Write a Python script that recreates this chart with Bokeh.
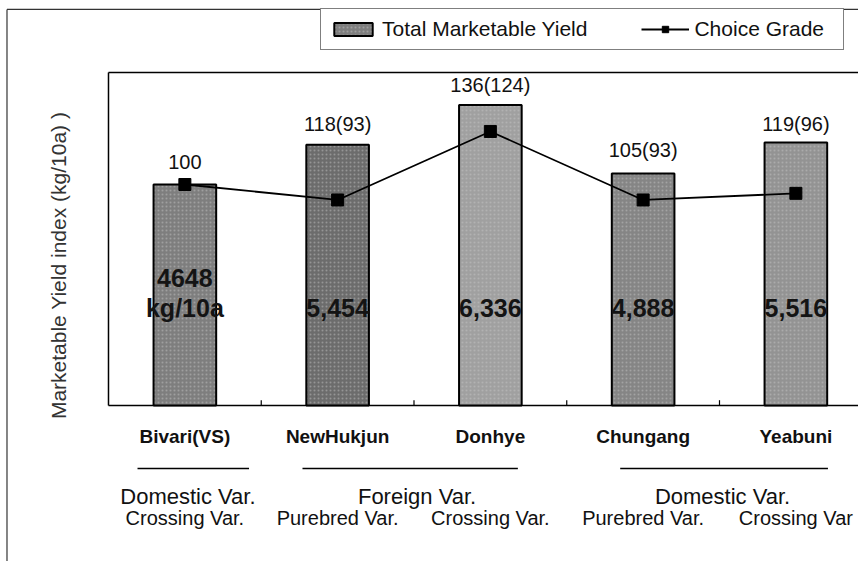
import math
from bokeh.plotting import figure
from bokeh.models import ColumnDataSource, Range1d, Legend, LegendItem
from bokeh.core.properties import value
from bokeh.embed import file_html
from bokeh.resources import INLINE

# ---------------- data ----------------
varieties = ["Bivari(VS)", "NewHukjun", "Donhye", "Chungang", "Yeabuni"]
yield_index = [100, 118, 136, 105, 119]          # Total marketable yield index
choice_index = [100, 93, 124, 93, 96]            # Choice grade index
bar_labels = ["100", "118(93)", "136(124)", "105(93)", "119(96)"]
yield_kg = ["4648", "5,454", "6,336", "4,888", "5,516"]
unit_label = "kg/10a"
origin = ["Crossing Var.", "Purebred Var.", "Crossing Var.", "Purebred Var.", "Crossing Var"]
groups = ["Domestic Var.", "Foreign Var.", "Domestic Var."]
group_members = [[0], [1, 2], [3, 4]]
y_title = "Marketable Yield index (kg/10a)  )"
bar_colors = ["#7e7e7e", "#6c6c6c", "#a0a0a0", "#858585", "#939393"]

# ---------------- layout constants ----------------
FONT = value("Liberation Sans")
n = len(varieties)
xc = [i + 0.5 for i in range(n)]
W, H = 858, 561
X0, X1 = -0.707, 4.910          # frame covers whole figure
Y0, Y1 = -70.59, 183.26
Y_TOP = 150.68                   # top line of plot box
sep_x0 = [0.19, 1.27, 3.35]
sep_x1 = [0.92, 2.68, 4.71]
label_gap = [-16, -10, -9, -12, -8]   # px gap between bar top and its label

p = figure(width=W, height=H, output_backend="svg", toolbar_location=None,
           x_range=Range1d(X0, X1), y_range=Range1d(Y0, Y1),
           x_axis_location=None, y_axis_location=None,
           min_border=0)
p.xgrid.visible = False
p.ygrid.visible = False
p.outline_line_color = None
p.background_fill_color = "white"
p.border_fill_color = "white"

# outer border (left and top)
p.segment(x0=[-0.6645, -0.6645], x1=[-0.6645, X1], y0=[Y0, 179.2], y1=[179.2, 179.2],
          line_color="#333333", line_width=1.2)

# plot box: top line, left line, bottom axis line, boundary ticks
p.segment(x0=[0, 0, 0], x1=[X1, X1, 0], y0=[Y_TOP, 0, 0], y1=[Y_TOP, 0, Y_TOP],
          line_color="black", line_width=1.5)
p.segment(x0=[1, 2, 3, 4], x1=[1, 2, 3, 4], y0=[0] * 4, y1=[2.4] * 4,
          line_color="black", line_width=1.2)

src = ColumnDataSource(dict(x=xc, top=yield_index, choice=choice_index,
                            color=bar_colors, lab=bar_labels, kg=yield_kg,
                            cat=varieties, org=origin, gap=label_gap))

bars = p.vbar(x="x", top="top", bottom=0, width=0.41, source=src,
              fill_color="color", line_color="black", line_width=2,
              hatch_pattern="dot", hatch_color="#c8c8c8", hatch_alpha=0.45,
              hatch_scale=4, hatch_weight=1)

line_r = p.line(x="x", y="choice", source=src, line_color="black", line_width=1.8)
pts = p.scatter(x="x", y="choice", source=src, marker="square", size=12,
                fill_color="black", line_color="black")

# labels above bars
p.text(x="x", y="top", text="lab", source=src, y_offset="gap",
       text_align="center", text_baseline="bottom", text_font=FONT,
       text_font_size="20px", text_color="#111111")

# yield values inside bars
kg_y = [57.5] + [43.9] * (n - 1)
p.text(x=xc, y=kg_y, text=yield_kg, text_align="center", text_baseline="middle",
       text_font=FONT, text_font_size="25px", text_font_style="bold",
       text_color="#141414")
p.text(x=[xc[0]], y=[43.9], text=[unit_label], text_align="center",
       text_baseline="middle", text_font=FONT, text_font_size="25px",
       text_font_style="bold", text_color="#141414")

# y axis title
p.text(x=[-0.327], y=[64.7], text=[y_title], angle=math.pi / 2,
       text_align="center", text_baseline="middle", text_font=FONT,
       text_font_size="21px", text_color="#333333")

# category labels
p.text(x="x", y=-14.0, text="cat", source=src, text_align="center",
       text_baseline="middle", text_font=FONT, text_font_size="19px",
       text_font_style="bold", text_color="#111111")

# group separator lines and group labels
gxc = [(m[0] + m[-1]) / 2 + 0.52 for m in group_members]
p.segment(x0=sep_x0, x1=sep_x1, y0=[-28.5] * 3, y1=[-28.5] * 3,
          line_color="black", line_width=1.5)
p.text(x=gxc, y=[-41.2] * 3, text=groups, text_align="center",
       text_baseline="middle", text_font=FONT, text_font_size="22px",
       text_color="#111111")

# origin (breeding type) labels
p.text(x="x", y=-50.9, text="org", source=src, text_align="center",
       text_baseline="middle", text_font=FONT, text_font_size="20px",
       text_color="#111111")

legend = Legend(items=[LegendItem(label="Total Marketable Yield", renderers=[bars]),
                       LegendItem(label="Choice Grade", renderers=[line_r, pts])],
                orientation="horizontal", location=(320, 511),
                label_text_font="Liberation Sans", label_text_font_size="21px",
                label_text_color="#111111", glyph_width=48, glyph_height=16,
                label_standoff=5, spacing=54, padding=8, margin=0,
                label_width=141, border_line_color="black", border_line_width=1.5,
                background_fill_color="white", background_fill_alpha=1.0)
p.add_layout(legend, "center")

open("out.html", "w").write(file_html(p, INLINE))
